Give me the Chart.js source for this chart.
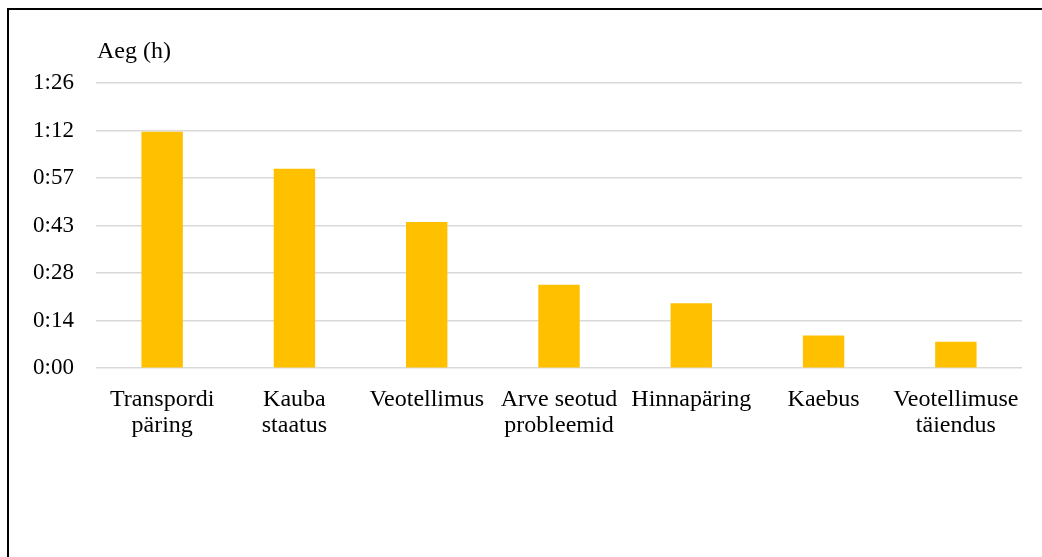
<!DOCTYPE html>
<html>
<head>
<meta charset="utf-8">
<script src="https://cdn.jsdelivr.net/npm/chart.js@4.4.1/dist/chart.umd.min.js"></script>
<style>
  html, body { margin: 0; padding: 0; background: #fff; overflow: hidden; }
  #wrap { position: relative; width: 1042px; height: 557px; }
  #frame {
    position: absolute; left: 7px; top: 8px; width: 1100px; height: 600px;
    border-left: 2px solid #000; border-top: 2px solid #000; box-sizing: border-box;
    pointer-events: none;
  }
  canvas { position: absolute; left: 0; top: 0; }
</style>
</head>
<body>
<div id="wrap">
  <canvas id="chart" width="1042" height="557"></canvas>
  <div id="frame"></div>
</div>
<script>
// Average handling time per request type, in minutes
const categories = [
  ['Transpordi', 'päring'],
  ['Kauba', 'staatus'],
  'Veotellimus',
  ['Arve seotud', 'probleemid'],
  'Hinnapäring',
  'Kaebus',
  ['Veotellimuse', 'täiendus']
];
const minutes = [71.6, 60.4, 44.3, 25.3, 19.7, 9.9, 8.0];

// Axis runs in steps of 0.01 day (14.4 min), shown as h:mm
const axisMax = 86.4;
const axisStep = 14.4;
const axisTitle = 'Aeg (h)';

const FONT = "'Liberation Serif', 'Times New Roman', serif";
const LABEL_SIZE = 24;
const TICK_SIZE = 23;

function hmm(v) {
  const total = Math.floor(v + 1e-6);
  const h = Math.floor(total / 60);
  const m = total % 60;
  return h + ':' + (m < 10 ? '0' : '') + m;
}

const unitLabel = {
  id: 'unitLabel',
  afterDraw(chart) {
    const ctx = chart.ctx;
    ctx.save();
    ctx.font = LABEL_SIZE + 'px ' + FONT;
    ctx.fillStyle = '#000';
    ctx.textAlign = 'left';
    ctx.textBaseline = 'alphabetic';
    ctx.fillText(axisTitle, chart.chartArea.left + 1, 58);
    ctx.restore();
  }
};

new Chart(document.getElementById('chart'), {
  type: 'bar',
  data: {
    labels: categories,
    datasets: [{
      data: minutes,
      backgroundColor: '#FFC000',
      borderWidth: 0,
      barPercentage: 0.313,
      categoryPercentage: 1
    }]
  },
  options: {
    responsive: false,
    animation: false,
    layout: { padding: { top: 83, right: 20, bottom: 108, left: 0 } },
    plugins: { legend: { display: false }, tooltip: { enabled: false } },
    scales: {
      x: {
        grid: { display: false },
        border: { display: false },
        ticks: {
          color: '#000',
          font: { family: FONT, size: LABEL_SIZE, lineHeight: 1.1 },
          maxRotation: 0, minRotation: 0, autoSkip: false, padding: 10
        }
      },
      y: {
        min: 0,
        max: axisMax,
        afterFit(scale) { scale.width = 96; },
        afterBuildTicks(scale) {
          const t = [];
          for (let i = 0; i <= Math.round(axisMax / axisStep); i++) t.push({ value: i * axisStep });
          scale.ticks = t;
        },
        grid: { color: '#d9d9d9', lineWidth: 1.5, drawTicks: false },
        border: { display: false },
        ticks: {
          color: '#000',
          font: { family: FONT, size: TICK_SIZE },
          padding: 22,
          callback: (v) => hmm(v)
        }
      }
    }
  },
  plugins: [unitLabel]
});
</script>
</body>
</html>
